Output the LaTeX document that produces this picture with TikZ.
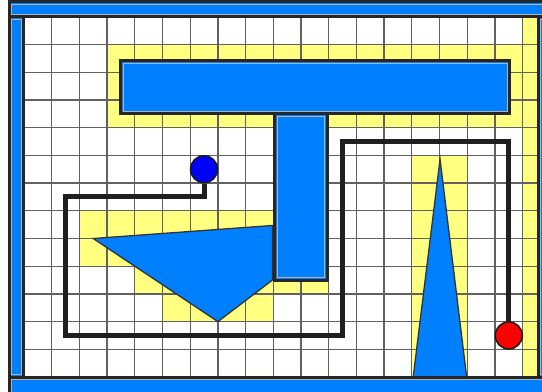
\documentclass[tikz,border=0pt]{standalone}
\usetikzlibrary{calc}
\definecolor{obstblue}{RGB}{0,128,255}
\definecolor{occyellow}{RGB}{255,255,128}
\definecolor{startblue}{RGB}{0,0,255}
\definecolor{goalred}{RGB}{255,0,0}
\newcommand{\wallrect}[2]{% lower-left, upper-right
  \fill[obstblue] (#1) rectangle (#2);
  \draw[inedge] ([shift={(2.4pt,2.4pt)}]#1) rectangle ([shift={(-2.4pt,-2.4pt)}]#2);
  \draw[outedge] (#1) rectangle (#2);
}

\begin{document}
\begin{tikzpicture}[
    x=27.7pt, y=27.7pt,
    occ/.style={fill=occyellow},
    gridline/.style={draw=black!62, line width=1.3pt},
    outedge/.style={draw=black!85, line width=3pt},
    inedge/.style={draw=black!30, line width=1pt},
    shapeedge/.style={draw=black!80, line width=1.3pt, line join=miter},
    route/.style={draw=black!88, line width=5pt},
    endpt/.style={circle, draw=black!90, line width=1.5pt, minimum size=27pt, inner sep=0pt}
  ]
\useasboundingbox (-0.866,-0.54) rectangle (18.70,13.61);

% =================== occupied cells ===================
\fill[occ] (3,9) rectangle (18,12);    % top bar
\fill[occ] (9,3) rectangle (11,9);     % stem
\fill[occ] (2,4) rectangle (9,6);      % wedge
\fill[occ] (4,3) rectangle (9,4);
\fill[occ] (5,2) rectangle (9,3);
\fill[occ] (14,0) rectangle (16,8);    % spike
\fill[occ] (18,0) rectangle (18.6,13); % right wall

% grid
\draw[gridline, step=1] (0,0) grid (18.6,13);

% =================== obstacles ===================
\filldraw[fill=obstblue, shapeedge] (2.5,5) -- (8.97,5.47) -- (8.97,3.5) -- (7,2) -- cycle;
\filldraw[fill=obstblue, shapeedge] (14.05,0) -- (15.02,7.86) -- (15.98,0) -- cycle;
\wallrect{9.06,3.5}{10.94,9.5}
\wallrect{3.5,9.5}{17.53,11.42}

% =================== path ===================
\node[endpt, fill=startblue] (start) at (6.5,7.5) {};
\node[endpt, fill=goalred] (goal) at (17.5,1.5) {};
\draw[route] (start) |- (1.5,6.5) |- (11.5,1.5) |- (17.5,8.5) -- (goal);

% =================== outer walls ===================
\wallrect{-0.52,0}{0,13}
\wallrect{18.56,0}{19.2,13}
\wallrect{-0.52,13}{19.2,13.54}
\wallrect{-0.52,-1}{19.2,0}

\end{tikzpicture}
\end{document}
